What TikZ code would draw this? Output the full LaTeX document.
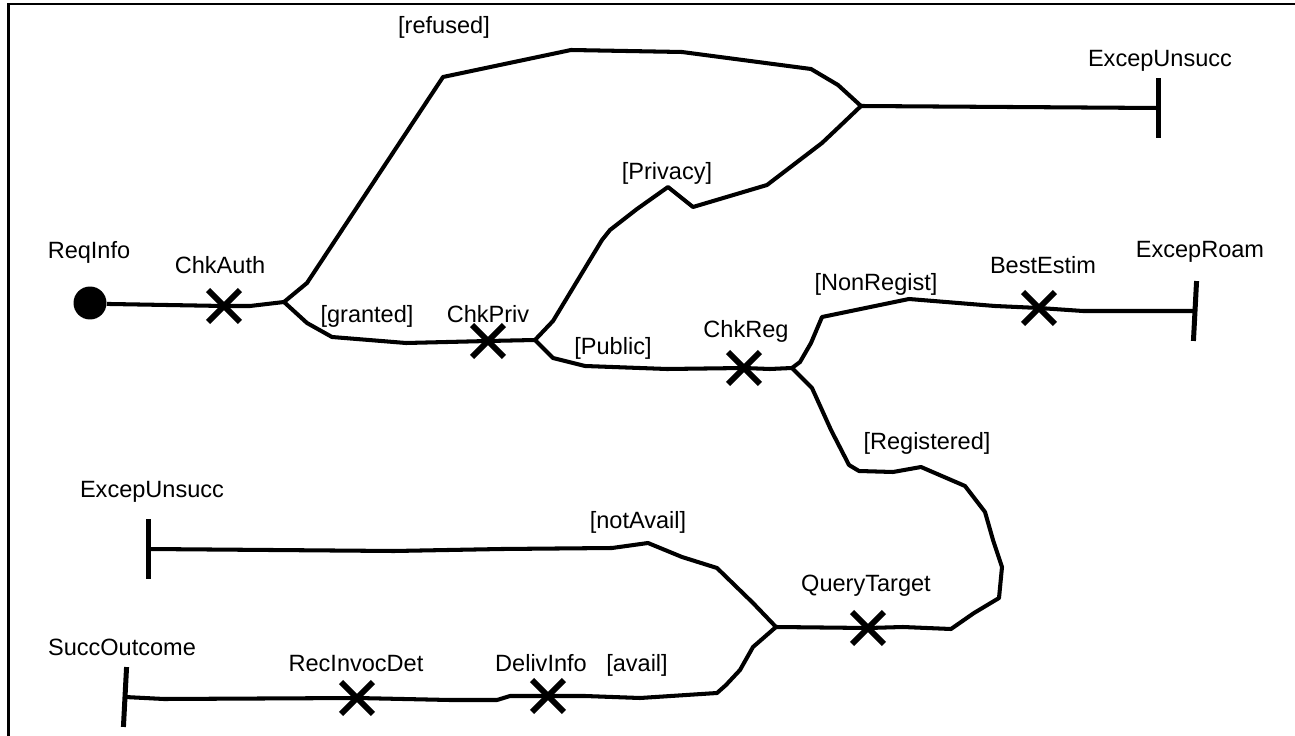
\documentclass[tikz,border=0pt]{standalone}
\usepackage{fontspec}
\setmainfont{Liberation Sans}
\usetikzlibrary{shapes.misc}
\begin{document}
\begin{tikzpicture}[x=0.02cm,y=-0.02cm,
  ucmpath/.style={line width=2.3pt, line join=round},
  resp/.style={cross out, draw, line width=3.4pt, minimum size=0.52cm, inner sep=0pt},
  startpt/.style={circle, fill, minimum size=0.66cm, inner sep=0pt},
  endbar/.style={fill, inner sep=0pt, minimum width=0.1cm, minimum height=1.2cm},
  lbl/.style={font=\fontsize{13.4}{16}\selectfont, inner sep=0pt, text height=0.72em, text depth=0.2em},
  frame/.style={line width=1.2pt}]
\useasboundingbox (0,0) rectangle (1295,736);
\draw[frame] (8.5,736) -- (8.5,4) -- (1295,4);

% start point, responsibilities and end points
\node[startpt] (start) at (90,303) {};
\node[resp] (chkauth) at (224,306) {};
\node[resp] (chkpriv) at (488,341) {};
\node[resp] (chkreg) at (744,368) {};
\node[resp] (bestestim) at (1039,308) {};
\node[resp] (querytarget) at (868,628) {};
\node[resp] (recinvoc) at (357,698) {};
\node[resp] (delivinfo) at (548,696) {};
\node[endbar] (endunsucc1) at (1158,108) {};
\node[endbar, rotate=-3] (endroam) at (1195,311) {};
\node[endbar] (endunsucc2) at (148,549) {};
\node[endbar, rotate=-3] (endsucc) at (125,697) {};

% forks and joins
\coordinate (fork1) at (284,302);
\coordinate (fork2) at (535,340);
\coordinate (fork3) at (792,368);
\coordinate (join1) at (861,106);
\coordinate (fork4) at (776,627);

% paths
\draw[ucmpath] (start) -- (110,304) -- (chkauth.center) -- (250,306) -- (fork1);
\draw[ucmpath] (fork1) -- (307,283) -- (443,77) -- (571,50) -- (682,52)
  -- (811,69) -- (838,85) -- (join1);
\draw[ucmpath] (fork1) -- (307,323) -- (332,337) -- (406,343)
  -- (chkpriv.center) -- (fork2);
\draw[ucmpath] (fork2) -- (553,321) -- (602,240) -- (610,230) -- (637,209)
  -- (668,187) -- (693,207) -- (767,185) -- (822,143) -- (840,126) -- (join1);
\draw[ucmpath] (join1) -- (1158,108) -- (endunsucc1.center);
\draw[ucmpath] (fork2) -- (553,358) -- (585,366) -- (667,369)
  -- (chkreg.center) -- (770,369) -- (fork3);
\draw[ucmpath] (fork3) -- (800,362) -- (811,343) -- (822,317) -- (909,299)
  -- (995,306) -- (bestestim.center) -- (1083,311) -- (endroam.center);
\draw[ucmpath] (fork3) -- (812,388) -- (831,430) -- (849,465) -- (859,471)
  -- (893,472) -- (921,467) -- (965,486) -- (985,512) -- (993,540)
  -- (1002,567) -- (999,598) -- (974,613) -- (951,629) -- (903,627)
  -- (querytarget.center) -- (fork4);
\draw[ucmpath] (fork4) -- (753,603) -- (717,568) -- (682,557) -- (648,543)
  -- (612,548) -- (502,549) -- (394,551) -- (endunsucc2.center);
\draw[ucmpath] (fork4) -- (753,647) -- (740,670) -- (726,685) -- (717,693)
  -- (640,698) -- (585,696) -- (delivinfo.center) -- (510,696) -- (497,700)
  -- (450,700) -- (recinvoc.center) -- (164,699) -- (endsucc.center);

% labels
\node[lbl] (l-reqinfo) at (89,254) {ReqInfo};
\node[lbl] (l-chkauth) at (220,269) {ChkAuth};
\node[lbl] (l-refused) at (444,29) {[refused]};
\node[lbl] (l-granted) at (367,318) {[granted]};
\node[lbl] (l-chkpriv) at (488,318) {ChkPriv};
\node[lbl] (l-privacy) at (667,175) {[Privacy]};
\node[lbl] (l-public) at (613,350) {[Public]};
\node[lbl] (l-chkreg) at (746,333) {ChkReg};
\node[lbl] (l-nonregist) at (876,286) {[NonRegist]};
\node[lbl] (l-bestestim) at (1043,269) {BestEstim};
\node[lbl] (l-excepunsucc1) at (1160,62) {ExcepUnsucc};
\node[lbl] (l-exceproam) at (1200,253) {ExcepRoam};
\node[lbl] (l-registered) at (927,445) {[Registered]};
\node[lbl] (l-querytarget) at (866,587) {QueryTarget};
\node[lbl] (l-notavail) at (638,524) {[notAvail]};
\node[lbl] (l-excepunsucc2) at (152,493) {ExcepUnsucc};
\node[lbl] (l-succoutcome) at (122,651) {SuccOutcome};
\node[lbl] (l-recinvoc) at (356,667) {RecInvocDet};
\node[lbl] (l-delivinfo) at (541,667) {DelivInfo};
\node[lbl] (l-avail) at (637,667) {[avail]};
\end{tikzpicture}
\end{document}
